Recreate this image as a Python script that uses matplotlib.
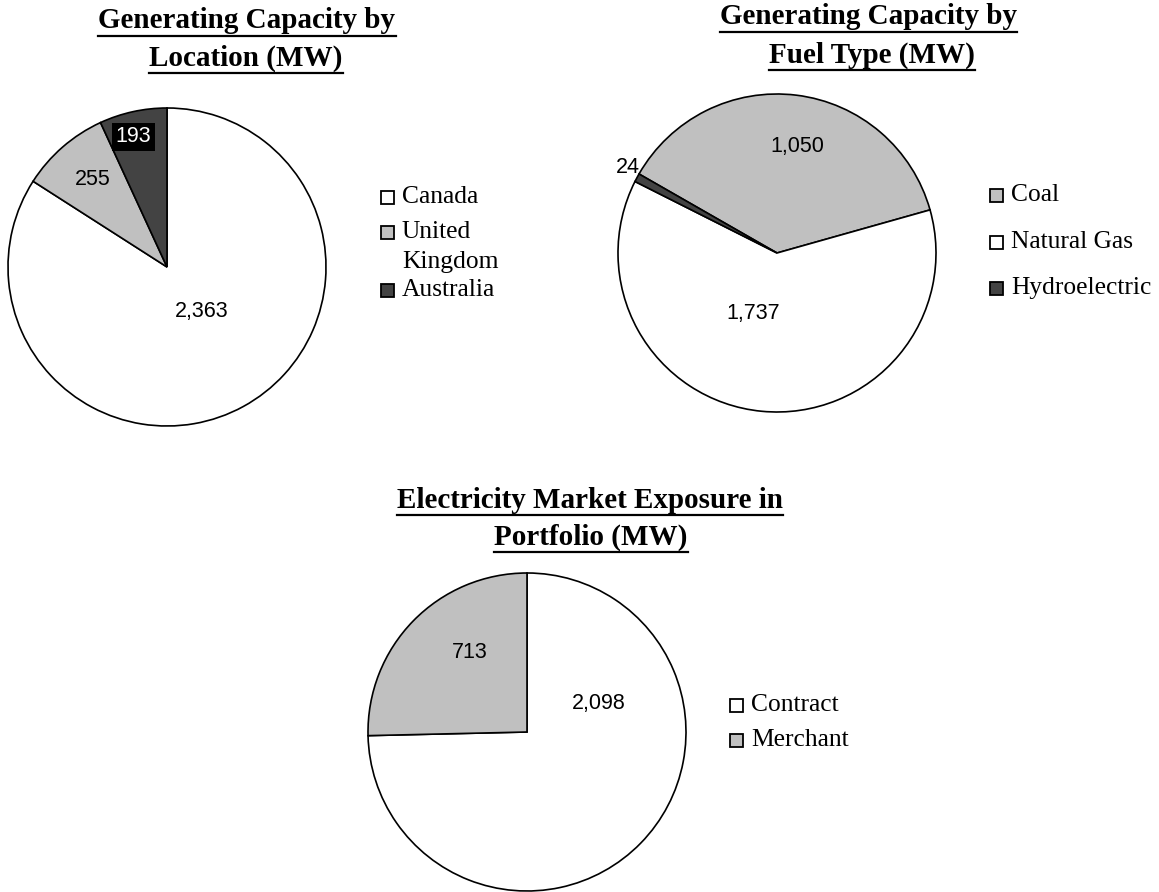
import matplotlib
matplotlib.use("Agg")
import matplotlib.pyplot as plt
from matplotlib.lines import Line2D
from matplotlib.patches import Rectangle

# data
loc_labels = ["Canada", "United\nKingdom", "Australia"]
loc_values = [2363, 255, 193]

fuel_labels = ["Coal", "Natural Gas", "Hydroelectric"]
fuel_values = [1050, 1737, 24]

market_labels = ["Contract", "Merchant"]
market_values = [2098, 713]

W, H = 1159, 892
LIGHT = "#c0c0c0"
DARK = "#434343"

SERIF = "Liberation Serif"
SANS = "Liberation Sans"

fig = plt.figure(figsize=(W / 100, H / 100), dpi=100)
fig.patch.set_facecolor("white")


def pie_axes(cx, cy, r):
    ax = fig.add_axes([(cx - r) / W, 1 - (cy + r) / H, 2 * r / W, 2 * r / H])
    return ax


def draw_pie(ax, values, colors, start, label_pos, label_kw=None):
    wedges, _ = ax.pie(values, colors=colors, startangle=start, counterclock=False,
                       radius=1.0, wedgeprops=dict(edgecolor="black", linewidth=1.2))
    # pie() sets its own padded limits, override so radius fills the axes
    ax.set_xlim(-1.0, 1.0)
    ax.set_ylim(-1.0, 1.0)
    ax.set_aspect("equal")
    ax.axis("off")
    for w in wedges:
        w.set_clip_on(False)
    for i, (v, (lx, ly)) in enumerate(zip(values, label_pos)):
        kw = dict(ha="center", va="center", fontsize=15.5, family=SANS, color="black")
        if label_kw and i in label_kw:
            kw.update(label_kw[i])
        ax.text(lx, ly, f"{v:,}", **kw)
    return wedges


def legend(x, rows, labels, colors):
    # x: square centre in px, rows: centre y of the first text line in px
    s = 13
    for y, lab, c in zip(rows, labels, colors):
        fig.add_artist(Rectangle(((x - s / 2) / W, 1 - (y + s / 2) / H), s / W, s / H,
                                 facecolor=c, edgecolor="black", linewidth=1.3,
                                 transform=fig.transFigure))
        fig.text((x + 15) / W, 1 - (y - 11) / H, lab, ha="left", va="top",
                 family=SERIF, fontsize=18.4, linespacing=1.45)


titles = []


def title(cx, cy, s):
    t = fig.text(cx / W, 1 - cy / H, s, ha="center", va="center",
                 family=SERIF, fontweight="bold", fontsize=21)
    titles.append(t)


# chart 1: location
ax1 = pie_axes(167, 267, 159)
draw_pie(ax1, loc_values, ["white", LIGHT, DARK], 90,
         [(0.22, -0.28), (-0.47, 0.55), (-0.21, 0.82)],
         {2: dict(color="white",
                  bbox=dict(facecolor="black", edgecolor="none", pad=2.5))})
legend(387, [197, 232, 290], loc_labels, ["white", LIGHT, DARK])
title(247, 21, "Generating Capacity by")
title(246, 58, "Location (MW)")

# chart 2: fuel type
ax2 = pie_axes(777, 253, 159)
draw_pie(ax2, fuel_values, [LIGHT, "white", DARK], 150.2,
         [(0.13, 0.67), (-0.15, -0.38), (-0.86, 0.54)],
         {2: dict(ha="right")})
legend(996, [195, 242, 288], fuel_labels, [LIGHT, "white", DARK])
title(868, 17, "Generating Capacity by")
title(872, 55, "Fuel Type (MW)")

# chart 3: market exposure
ax3 = pie_axes(527, 732, 159)
draw_pie(ax3, market_values, ["white", LIGHT], 90,
         [(0.45, 0.18), (-0.36, 0.50)])
legend(736, [705, 740], market_labels, ["white", LIGHT])
title(590, 500, "Electricity Market Exposure in")
title(591, 537, "Portfolio (MW)")

# underline the titles
fig.canvas.draw()
r = fig.canvas.get_renderer()
for t in titles:
    bb = t.get_window_extent(r)
    y = (bb.y0 - 1) / H
    fig.add_artist(Line2D([bb.x0 / W, bb.x1 / W], [y, y], color="black",
                          linewidth=1.6, transform=fig.transFigure))

fig.savefig("out.png", dpi=100)
